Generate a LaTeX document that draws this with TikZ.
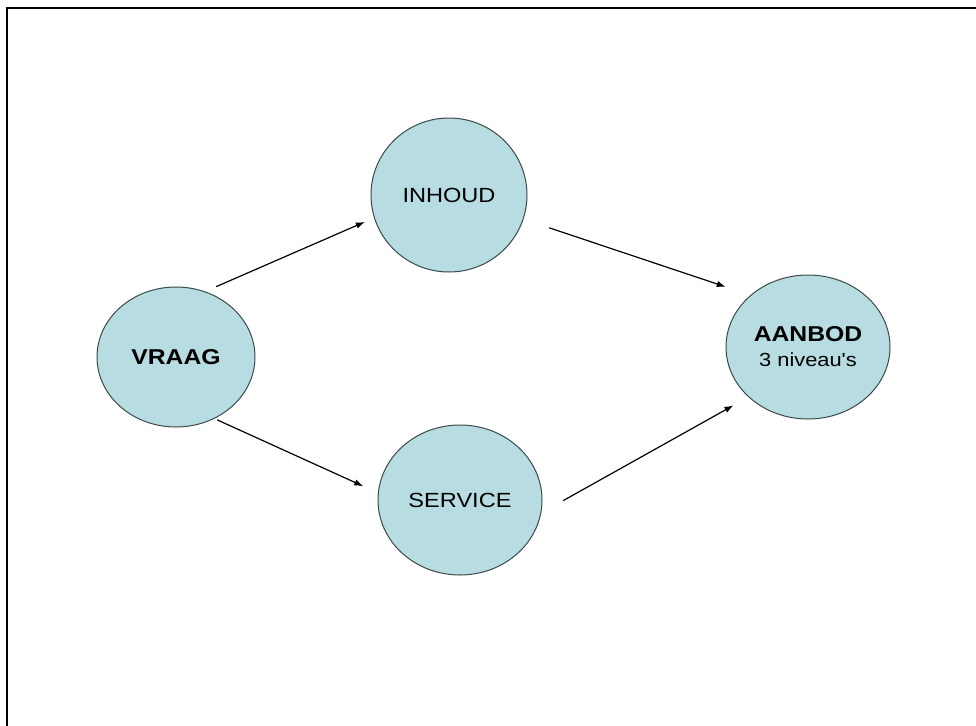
\documentclass[tikz,border=0pt]{standalone}
\usepackage{fontspec}
\newfontfamily\hoofd[FakeStretch=1.15]{Liberation Sans}
\usetikzlibrary{shapes.geometric,arrows.meta}
\definecolor{bolblauw}{RGB}{183,221,226}
\definecolor{bolrand}{RGB}{60,72,74}
\tikzset{
	bol/.style={ellipse, draw=bolrand, fill=bolblauw, line width=1pt, inner sep=0pt, align=center,
		font=\hoofd\fontsize{20.5}{24}\selectfont},
	vet/.style={font=\hoofd\bfseries\fontsize{21.5}{24}\selectfont},
	pijl/.style={->, line width=1.2pt},
	>={Latex[length=9pt,width=6.5pt]}
}

\begin{document}
\begin{tikzpicture}[x=1pt, y=-1pt]
			\useasboundingbox (0,0) rectangle (976,725);
			\draw[line width=2.8pt] (7,727) -- (7,8) -- (978,8);
			\node[bol, vet, minimum width=158pt, minimum height=140pt] (vraag) at (176,357) {VRAAG};
			\node[bol, minimum width=156pt, minimum height=154pt] (inhoud) at (449,195) {INHOUD};
			\node[bol, minimum width=164pt, minimum height=150pt] (service) at (460,500) {SERVICE};
			\node[bol, minimum width=164pt, minimum height=144pt] (aanbod) at (808,347)
				{{\bfseries\fontsize{21.5}{24}\selectfont AANBOD}\\[1pt]{\fontsize{19}{22}\selectfont 3 niveau's}};
			\path[pijl]
			(vraag.66) edge[shorten <=12pt, shorten >=10pt] (inhoud.197)
			(vraag.-58) edge[shorten <=3pt, shorten >=16pt] (service.175)
			(inhoud.-18) edge[shorten <=27pt, shorten >=26pt] (aanbod.138)
			(service.-9) edge[shorten <=25pt, shorten >=17pt] (aanbod.220);
		\end{tikzpicture}
\end{document}
